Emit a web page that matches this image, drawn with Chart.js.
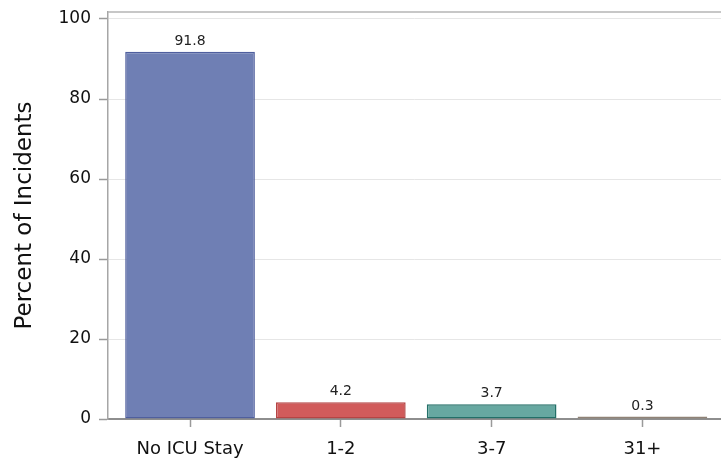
<!DOCTYPE html>
<html>
<head>
<meta charset="utf-8">
<script src="https://cdn.jsdelivr.net/npm/chart.js@4/dist/chart.umd.min.js"></script>
<style>
html,body{margin:0;padding:0;background:#fff;}
#wrap{width:721px;height:460px;position:relative;}
</style>
</head>
<body>
<div id="wrap"><canvas id="c" width="721" height="460"></canvas></div>
<script>
const categories = ["No ICU Stay", "1-2", "3-7", "31+"];
const percentValues = [91.8, 4.2, 3.7, 0.3];
const yTickValues = [0, 20, 40, 60, 80, 100];
const yAxisTitle = "Percent of Incidents";

const fillColors = ["#6F7FB4", "#D15B5B", "#67A8A1", "#A89C90"];
const borderColors = ["#4F5F9E", "#B54444", "#236F68", "#8F8276"];

const FONT = "'DejaVu Sans', sans-serif";

const frameAndLabels = {
  id: 'frameAndLabels',
  afterDatasetsDraw(chart) {
    const ctx = chart.ctx;
    const area = chart.chartArea;
    ctx.save();
    ctx.strokeStyle = '#b4b4b4';
    ctx.lineWidth = 1.5;
    ctx.beginPath();
    ctx.moveTo(area.left, area.top);
    ctx.lineTo(area.right, area.top);
    ctx.stroke();
    const meta = chart.getDatasetMeta(0);
    ctx.fillStyle = '#222';
    ctx.font = "14px " + FONT;
    ctx.textAlign = 'center';
    ctx.textBaseline = 'alphabetic';
    meta.data.forEach((el, i) => {
      ctx.fillText(percentValues[i].toFixed(1), el.x, el.y - 7);
    });
    ctx.restore();
  }
};

new Chart(document.getElementById('c'), {
  type: 'bar',
  data: {
    datasets: [{
      data: percentValues.map((v, i) => ({x: i, y: v})),
      backgroundColor: fillColors,
      borderColor: borderColors,
      borderWidth: 1.5,
      borderSkipped: false,
      minBarLength: 2.5,
      categoryPercentage: 1.0,
      barPercentage: 0.86
    }]
  },
  options: {
    responsive: false,
    animation: false,
    layout: {padding: {top: 12, left: 0, right: 0, bottom: 0}},
    plugins: {legend: {display: false}, tooltip: {enabled: false}},
    scales: {
      x: {
        type: 'linear',
        offset: false,
        min: -0.544,
        max: 3.521,
        afterBuildTicks(scale) {
          scale.ticks = categories.map((c, i) => ({value: i}));
        },
        afterFit(scale) {
          scale.height = 41;
          scale.paddingLeft = 0;
          scale.paddingRight = 0;
        },
        ticks: {
          callback: (v) => categories[v],
          font: {family: FONT, size: 18},
          color: '#111',
          padding: 12,
          maxRotation: 0,
          autoSkip: false
        },
        grid: {
          offset: false,
          drawOnChartArea: false,
          drawTicks: true,
          tickLength: 8,
          tickColor: '#9a9a9a',
          tickWidth: 1.5
        },
        border: {display: true, color: '#8e8e8e', width: 2}
      },
      y: {
        type: 'linear',
        min: 0,
        max: 101.75,
        afterBuildTicks(scale) {
          scale.ticks = yTickValues.map(v => ({value: v}));
        },
        afterFit(scale) {
          scale.width = 108;
          scale.paddingTop = 0;
          scale.paddingBottom = 0;
        },
        ticks: {
          font: {family: FONT, size: 17},
          color: '#111',
          padding: 8
        },
        grid: {
          color: '#e6e6e6',
          lineWidth: 1,
          tickLength: 9,
          tickColor: '#9a9a9a',
          tickWidth: 1.5
        },
        border: {display: true, color: '#a6a6a6', width: 1.5},
        title: {
          display: true,
          text: yAxisTitle,
          font: {family: FONT, size: 23},
          color: '#111',
          padding: {top: 11, bottom: 0}
        }
      }
    }
  },
  plugins: [frameAndLabels]
});
</script>
</body>
</html>
